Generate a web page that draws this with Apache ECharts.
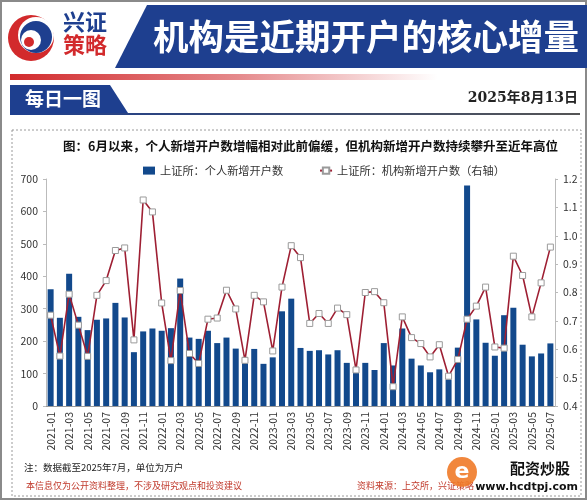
<!DOCTYPE html>
<html>
<head>
<meta charset="utf-8">
<script src="https://cdn.jsdelivr.net/npm/echarts@6/dist/echarts.min.js"></script>
<style>
html, body { margin: 0; padding: 0; background: #fff; }
#main { width: 587px; height: 500px; }
</style>
</head>
<body>
<div id="main"></div>
<script>
// 月份
const months = [
  '2021-01', '2021-02', '2021-03', '2021-04', '2021-05', '2021-06', '2021-07', '2021-08', '2021-09', '2021-10', '2021-11', '2021-12',
  '2022-01', '2022-02', '2022-03', '2022-04', '2022-05', '2022-06', '2022-07', '2022-08', '2022-09', '2022-10', '2022-11', '2022-12',
  '2023-01', '2023-02', '2023-03', '2023-04', '2023-05', '2023-06', '2023-07', '2023-08', '2023-09', '2023-10', '2023-11', '2023-12',
  '2024-01', '2024-02', '2024-03', '2024-04', '2024-05', '2024-06', '2024-07', '2024-08', '2024-09', '2024-10', '2024-11', '2024-12',
  '2025-01', '2025-02', '2025-03', '2025-04', '2025-05', '2025-06', '2025-07'
]
// 上证所：个人新增开户数（万户，左轴）
const personal = [
  360, 272, 408, 275, 234, 266, 270, 318, 273, 166, 230, 239,
  232, 240, 393, 211, 207, 232, 194, 211, 177, 138, 176, 130,
  150, 292, 331, 179, 170, 172, 159, 172, 133, 115, 133, 111,
  194, 125, 239, 146, 125, 104, 113, 82, 180, 680, 267, 195,
  155, 280, 303, 189, 153, 162, 193
]
// 上证所：机构新增开户数（万户，右轴）
const institution = [
  0.72, 0.576, 0.794, 0.685, 0.575, 0.79, 0.842, 0.948, 0.957, 0.633, 1.126, 1.084,
  0.763, 0.56, 0.807, 0.585, 0.55, 0.706, 0.71, 0.808, 0.742, 0.561, 0.79, 0.767,
  0.594, 0.819, 0.965, 0.923, 0.691, 0.726, 0.691, 0.745, 0.722, 0.527, 0.80, 0.803,
  0.764, 0.468, 0.714, 0.641, 0.62, 0.573, 0.616, 0.505, 0.564, 0.706, 0.752, 0.819,
  0.608, 0.604, 0.928, 0.86, 0.714, 0.834, 0.96
]
// 坐标轴刻度
const leftTicks = [0, 700, 100]
const rightTicks = [0.4, 1.2, 0.1]

const FONT = '"Noto Sans CJK SC", "Noto Sans", sans-serif'
const BLUE = '#1e3f8f'
const RED = '#d22a2c'

const myChart = echarts.init(document.getElementById('main'))

const graphics = [
  // 外框
  { type: 'rect', shape: { x: 1, y: 1, width: 585, height: 498 }, style: { fill: 'none', stroke: '#8a8a8a', lineWidth: 2 } },
  // logo
  { type: 'circle', shape: { cx: 31, cy: 38, r: 23 }, style: { fill: RED } },
  { type: 'circle', shape: { cx: 36, cy: 35, r: 18 }, style: { fill: '#fff' } },
  { type: 'circle', shape: { cx: 36, cy: 37, r: 16 }, style: { fill: BLUE } },
  { type: 'circle', shape: { cx: 31, cy: 40, r: 10 }, style: { fill: '#fff' } },
  { type: 'circle', shape: { cx: 29, cy: 42, r: 5 }, style: { fill: RED } },
  { type: 'text', x: 85, y: 22, style: { text: '兴证', fill: BLUE, font: 'bold 22px ' + FONT, textAlign: 'center', textVerticalAlign: 'middle' } },
  { type: 'text', x: 85, y: 45, style: { text: '策略', fill: RED, font: 'bold 22px ' + FONT, textAlign: 'center', textVerticalAlign: 'middle' } },
  // 标题横幅
  { type: 'polygon', shape: { points: [[147, 5], [587, 5], [587, 68], [115, 68]] }, style: { fill: BLUE } },
  { type: 'text', x: 366, y: 37, style: { text: '机构是近期开户的核心增量', fill: '#fff', font: 'bold 35.5px ' + FONT, textAlign: 'center', textVerticalAlign: 'middle' } },
  // 红色渐变条
  {
    type: 'rect', shape: { x: 10, y: 74, width: 570, height: 6 },
    style: { fill: new echarts.graphic.LinearGradient(0, 0, 1, 0, [{ offset: 0, color: RED }, { offset: 0.4, color: '#e58a8c' }, { offset: 0.75, color: '#fff' }]) }
  },
  // 每日一图
  { type: 'polygon', shape: { points: [[10, 85], [110, 85], [128, 113], [10, 113]] }, style: { fill: BLUE } },
  { type: 'text', x: 25, y: 99, style: { text: '每日一图', fill: '#fff', font: 'bold 19px ' + FONT, textAlign: 'left', textVerticalAlign: 'middle' } },
  {
    type: 'rect', shape: { x: 10, y: 113, width: 570, height: 2 },
    style: { fill: new echarts.graphic.LinearGradient(0, 0, 1, 0, [{ offset: 0, color: BLUE }, { offset: 1, color: '#555' }]) }
  },
  { type: 'text', x: 578, y: 98, style: { text: '2025年8月13日', fill: '#222', font: 'bold 14px "DejaVu Serif", ' + FONT, textAlign: 'right', textVerticalAlign: 'middle' } },
  // 虚线框
  { type: 'rect', shape: { x: 12, y: 130, width: 569, height: 366 }, style: { fill: 'none', stroke: '#9a9a9a', lineWidth: 1, lineDash: [2, 2] } },
  // 注释
  { type: 'text', x: 24, y: 467, style: { text: '注：数据截至2025年7月，单位为万户', fill: '#222', font: '9.5px ' + FONT, textAlign: 'left', textVerticalAlign: 'middle' } },
  { type: 'text', x: 26, y: 486, style: { text: '本信息仅为公开资料整理，不涉及研究观点和投资建议', fill: '#c0392b', font: '9px ' + FONT, textAlign: 'left', textVerticalAlign: 'middle' } },
  { type: 'text', x: 357, y: 486, style: { text: '资料来源：上交所，兴证策略', fill: '#c0392b', font: '9px ' + FONT, textAlign: 'left', textVerticalAlign: 'middle' } },
  // 水印
  { type: 'circle', shape: { cx: 462, cy: 472, r: 15 }, style: { fill: '#f07a28', opacity: 0.9 } },
  { type: 'text', x: 462, y: 472, style: { text: 'e', fill: '#fff', font: 'bold 22px "DejaVu Sans"', textAlign: 'center', textVerticalAlign: 'middle' } },
  { type: 'text', x: 540, y: 468, style: { text: '配资炒股', fill: '#111', font: 'bold 15px ' + FONT, textAlign: 'center', textVerticalAlign: 'middle' } },
  { type: 'text', x: 578, y: 487, style: { text: 'www.hcdtpj.com', fill: '#111', font: 'bold 11px "DejaVu Sans"', textAlign: 'right', textVerticalAlign: 'middle' } }
]

const myOption = {
  animation: false,
  textStyle: { fontFamily: FONT },
  title: {
    text: '图：6月以来，个人新增开户数增幅相对此前偏缓，但机构新增开户数持续攀升至近年高位',
    left: 58,
    top: 135,
    textStyle: { fontSize: 12.5, fontWeight: 'bold', color: '#111', fontFamily: FONT }
  },
  legend: {
    top: 160,
    left: 138,
    itemGap: 36,
    itemWidth: 12,
    itemHeight: 8,
    textStyle: { fontSize: 11.2, color: '#333' },
    data: [
      { name: '上证所：个人新增开户数', icon: 'rect' },
      { name: '上证所：机构新增开户数（右轴）' }
    ]
  },
  grid: { left: 46, right: 32, top: 179, bottom: 94, containLabel: false },
  xAxis: {
    type: 'category',
    data: months,
    axisLine: { lineStyle: { color: '#999' } },
    axisTick: { show: false },
    axisLabel: { rotate: 90, interval: 1, fontSize: 10.5, color: '#333', margin: 6 }
  },
  yAxis: [
    {
      type: 'value',
      min: leftTicks[0],
      max: leftTicks[1],
      interval: leftTicks[2],
      axisLine: { show: true, lineStyle: { color: '#bbb' } },
      axisTick: { show: true, length: 3, lineStyle: { color: '#bbb' } },
      splitLine: { show: false },
      axisLabel: { fontSize: 10.5, color: '#333', margin: 8 }
    },
    {
      type: 'value',
      position: 'right',
      min: rightTicks[0],
      max: rightTicks[1],
      interval: rightTicks[2],
      axisLine: { show: true, lineStyle: { color: '#bbb' } },
      axisTick: { show: true, length: 3, lineStyle: { color: '#bbb' } },
      splitLine: { show: false },
      axisLabel: { fontSize: 10.5, color: '#333', margin: 8, formatter: v => v.toFixed(1) }
    }
  ],
  series: [
    {
      name: '上证所：个人新增开户数',
      type: 'bar',
      yAxisIndex: 0,
      barWidth: 6,
      itemStyle: { color: '#12498c' },
      data: personal
    },
    {
      name: '上证所：机构新增开户数（右轴）',
      type: 'line',
      yAxisIndex: 1,
      symbol: 'rect',
      symbolSize: 6,
      showAllSymbol: true,
      lineStyle: { color: '#9e1f33', width: 1.6 },
      itemStyle: { color: '#fff', borderColor: '#9a9a9a', borderWidth: 1 },
      data: institution
    }
  ],
  graphic: graphics
}

myChart.setOption(myOption)
</script>
</body>
</html>
